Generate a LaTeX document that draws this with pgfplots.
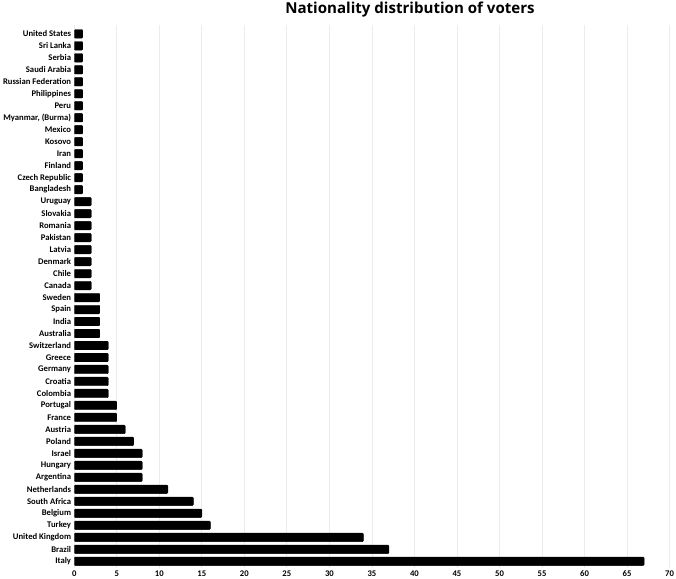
\documentclass[border=0pt]{standalone}
\usepackage{fontspec}
\setmainfont{Carlito}
\newfontfamily\titlefont{Open Sans}
\usepackage{pgfplots}
\pgfplotsset{compat=1.18}
\begin{document}
\begin{tikzpicture}
\begin{axis}[
    xbar,
    bar width=8.5pt,
    scale only axis,
    width=592pt, height=540pt,
    xmin=0, xmax=70,
    ymin=-0.6, ymax=44.7,
    xtick={0,5,...,70},
    ytick={0,...,44},
    yticklabels={Italy,Brazil,United Kingdom,Turkey,Belgium,South Africa,Netherlands,Argentina,Hungary,Israel,Poland,Austria,France,Portugal,Colombia,Croatia,Germany,Greece,Switzerland,Australia,India,Spain,Sweden,Canada,Chile,Denmark,Latvia,Pakistan,Romania,Slovakia,Uruguay,Bangladesh,Czech Republic,Finland,Iran,Kosovo,Mexico,{Myanmar, (Burma)},Peru,Philippines,Russian Federation,Saudi Arabia,Serbia,Sri Lanka,United States},
    xmajorgrids,
    grid style={draw=gray!15, line width=0.8pt},
    axis line style={draw=none},
    major tick length=0pt,
    /pgf/number format/assume math mode=true,
    ticklabel style={font=\fontsize{8.6}{9}\selectfont\bfseries},
    yticklabel style={inner sep=3pt},
    xticklabel style={inner sep=2pt},
    title={\titlefont\bfseries\fontsize{15}{17}\selectfont Nationality distribution of voters},
    title style={at={(rel axis cs:0.564,1)}, anchor=south, yshift=0pt, inner sep=2pt},
]
\addplot[fill=black, draw=black, rounded corners=1pt] coordinates {
(67,0) (37,1) (34,2) (16,3) (15,4) (14,5) (11,6) (8,7) (8,8) (8,9)
(7,10) (6,11) (5,12) (5,13) (4,14) (4,15) (4,16) (4,17) (4,18) (3,19)
(3,20) (3,21) (3,22) (2,23) (2,24) (2,25) (2,26) (2,27) (2,28) (2,29)
(2,30) (1,31) (1,32) (1,33) (1,34) (1,35) (1,36) (1,37) (1,38) (1,39)
(1,40) (1,41) (1,42) (1,43) (1,44)
};
\end{axis}
\end{tikzpicture}
\end{document}
